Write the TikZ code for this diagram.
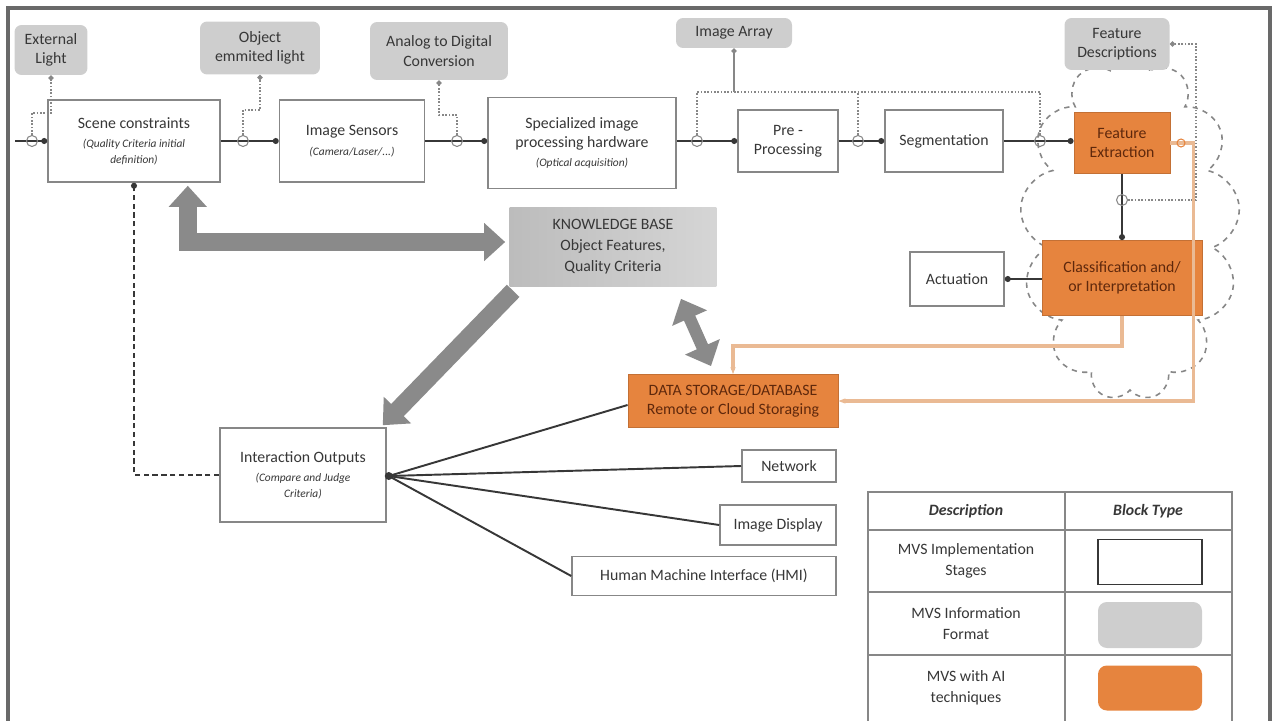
\documentclass[tikz,border=0pt]{standalone}
\usepackage{fontspec}
\setmainfont{Carlito}
\usetikzlibrary{arrows.meta,calc,positioning,shapes.symbols}
\definecolor{mvsFrame}{RGB}{105,105,105}
\definecolor{mvsEdge}{RGB}{135,135,135}
\definecolor{mvsInk}{RGB}{55,55,55}
\definecolor{mvsInfo}{RGB}{206,206,206}
\definecolor{mvsInfoDark}{RGB}{188,188,188}
\definecolor{mvsAI}{RGB}{230,132,62}
\definecolor{mvsAIText}{RGB}{95,40,12}
\definecolor{mvsTan}{RGB}{234,186,148}
\definecolor{mvsBig}{RGB}{138,138,138}
\newcommand{\subnote}[1]{{\fontsize{6.5}{9}\selectfont\itshape #1}}
\tikzset{
  stagebox/.style={draw=mvsEdge,line width=0.9pt,fill=white,align=center,
    inner sep=2pt,text=mvsInk,font=\fontsize{9}{11}\selectfont},
  infobox/.style={fill=mvsInfo,rounded corners=4pt,align=center,
    inner sep=2pt,text=mvsInk,font=\fontsize{9}{11}\selectfont},
  aibox/.style={draw=mvsAI!85!black,line width=0.5pt,fill=mvsAI,align=center,
    inner sep=2pt,text=mvsAIText,font=\fontsize{9}{11}\selectfont},
  junction/.style={circle,draw=mvsEdge,inner sep=0pt,minimum size=0.22cm,line width=0.6pt},
  flow/.style={draw=mvsInk,line width=1pt,-{Circle[length=3.4pt]}},
  tap/.style={draw=mvsEdge,densely dotted,line width=0.9pt,-{Circle[length=3pt]}},
  tapline/.style={draw=mvsEdge,densely dotted,line width=0.9pt},
  bigarrow/.style={draw=mvsBig,line width=10pt,-{Triangle[length=12pt,width=21pt]}},
  bigdouble/.style={draw=mvsBig,line width=10pt,
    {Triangle[length=12pt,width=21pt]}-{Triangle[length=12pt,width=21pt]}},
  tanline/.style={draw=mvsTan,line width=2.2pt},
  fanline/.style={draw=mvsInk,line width=1.1pt},
  cloudzone/.style={cloud,cloud puffs=13,cloud ignores aspect,draw=mvsEdge,
    dashed,line width=0.9pt,minimum width=4.4cm,minimum height=6.9cm},
  legendrule/.style={draw=mvsEdge,line width=1pt},
  legendtext/.style={align=center,text=mvsInk,font=\fontsize{9}{12}\selectfont}
}
\begin{document}
\begin{tikzpicture}[x=0.02cm,y=-0.02cm]
  \useasboundingbox (0,0) rectangle (1280,720);
  \draw[mvsFrame,line width=2.2pt] (8,8) rectangle (1270,760);
  % cloud round the AI stages
  \node[cloudzone] (aicloud) at (1130,228) {};
  % information formats
  \node[infobox,minimum width=1.46cm,minimum height=1.0cm] (extlight) at (51,50) {External\\Light};
  \node[infobox,minimum width=2.4cm,minimum height=1.06cm] (objlight) at (260,48) {Object\\emmited light};
  \node[infobox,minimum width=2.76cm,minimum height=1.16cm] (adconv) at (439,51) {Analog to Digital\\Conversion};
  \node[infobox,minimum width=2.32cm,minimum height=0.6cm] (imgarray) at (734,33) {Image Array};
  \node[infobox,minimum width=2.1cm,minimum height=1.04cm] (featdesc) at (1117,44) {Feature\\Descriptions};
  % implementation stages
  \node[stagebox,minimum width=3.44cm,minimum height=1.64cm] (scene) at (134,141)
    {Scene constraints\\\subnote{(Quality Criteria initial}\\[-2pt]\subnote{definition)}};
  \node[stagebox,minimum width=2.9cm,minimum height=1.64cm] (sensors) at (352,141)
    {Image Sensors\\\subnote{(Camera/Laser/...)}};
  \node[stagebox,minimum width=3.76cm,minimum height=1.82cm] (hardware) at (582,143)
    {Specialized image\\processing hardware\\\subnote{(Optical acquisition)}};
  \node[stagebox,minimum width=2.0cm,minimum height=1.24cm] (preproc) at (788,141) {Pre -\\Processing};
  \node[stagebox,minimum width=2.36cm,minimum height=1.24cm] (segment) at (944,141) {Segmentation};
  \node[aibox,minimum width=1.92cm,minimum height=1.22cm] (featext) at (1122,143) {Feature\\Extraction};
  \node[aibox,minimum width=3.2cm,minimum height=1.5cm] (classify) at (1122,278)
    {Classification and/\\or Interpretation};
  \node[stagebox,minimum width=1.88cm,minimum height=1.08cm] (actuation) at (957,279) {Actuation};
  \node[minimum width=4.14cm,minimum height=1.58cm,left color=mvsInfoDark,right color=mvsInfo!85,
    align=center,text=mvsInk,font=\fontsize{9}{12}\selectfont] (knowbase) at (613,247)
    {KNOWLEDGE BASE\\Object Features,\\Quality Criteria};
  \node[aibox,minimum width=4.2cm,minimum height=1.06cm] (storage) at (733,401)
    {DATA STORAGE/DATABASE\\Remote or Cloud Storaging};
  \node[stagebox,minimum width=3.32cm,minimum height=1.88cm] (outputs) at (303,475)
    {Interaction Outputs\\\subnote{(Compare and Judge}\\[-2pt]\subnote{Criteria)}};
  \node[stagebox,minimum width=1.88cm,minimum height=0.64cm] (network) at (789,466) {Network};
  \node[stagebox,minimum width=2.32cm,minimum height=0.8cm] (display) at (778,525) {Image Display};
  \node[stagebox,minimum width=5.28cm,minimum height=0.78cm] (hmi) at (704,576) {Human Machine Interface (HMI)};
  % main acquisition line
  \coordinate (entry) at (15,141);
  \draw[flow] (entry) -- (scene.west);
  \draw[flow] (scene.east) -- (sensors.west);
  \draw[flow] (sensors.east) -- (hardware.west |- sensors.east);
  \draw[flow] (hardware.east |- preproc.west) -- (preproc.west);
  \draw[flow] (preproc.east) -- (segment.west);
  \draw[flow] (segment.east) -- (featext.west |- segment.east);
  \draw[flow] (featext.south) -- (classify.north);
  \draw[flow] (classify.west |- actuation.east) -- (actuation.east);
  \node[junction] (j1) at (32,141) {};
  \node[junction] (j2) at (243,141) {};
  \node[junction] (j3) at (457,141) {};
  \node[junction] (j4) at (697,141) {};
  \node[junction] (j5) at (858,141) {};
  \node[junction] (j6) at (1040,141) {};
  \node[junction] (j7) at (1122,200) {};
  % dotted taps to the information formats
  \draw[tap] (j1.north) -- ++(0,-22) -| (extlight.south);
  \draw[tap] (j2.north) -- ++(0,-25) -| (objlight.south);
  \draw[tap] (j3.north) -- ++(0,-20) -| (adconv.south);
  \coordinate (tapbus) at (734,92);
  \draw[tapline] (j4.north) |- (tapbus) -| (j6.north);
  \draw[tapline] (j5.north) -- (j5.north |- tapbus);
  \draw[draw=mvsEdge,line width=0.9pt,-{Circle[length=3pt]}] (tapbus) -- (imgarray.south);
  \draw[tap] (j7.east) -- ++(68,0) |- (featdesc.east);
  % storage feedback
  \draw[tanline,-{Stealth[length=4pt]}] (featext.east) -- ++(23,0) |- (storage.east);
  \draw[tanline,-{Stealth[length=4pt]}] (classify.south) -- ++(0,30) -| (storage.north);
  \node[junction,draw=mvsAI,minimum size=0.16cm] (j8) at (1181,143) {};
  % knowledge base exchanges
  \draw[bigdouble] ($(scene.south east)+(-33,3)$) |- ($(knowbase.west)+(-4,-5)$);
  \draw[bigarrow] ($(knowbase.south west)+(4,4)$) -- ($(outputs.north east)+(-4,-2)$);
  \draw[bigdouble,line width=7pt] ($(knowbase.south)+(68,12)$) -- ($(storage.north)+(-22,-8)$);
  % interaction outputs
  \draw[densely dashed,draw=mvsInk,line width=0.8pt,-{Circle[length=3.4pt]}] (outputs.west) -| (scene.south);
  \coordinate (fan) at ($(outputs.east)+(2,1)$);
  \draw[fanline] (fan) -- ($(storage.west)+(0,4)$);
  \draw[fanline] (fan) -- (network.west);
  \draw[fanline] (fan) -- (display.west);
  \draw[fanline] (fan) -- (hmi.west);
  \fill[mvsInk] (fan) circle (4);
  % legend
  \draw[legendrule] (868,492) rectangle (1232,760);
  \draw[legendrule] (1065,492) -- (1065,760);
  \foreach \y in {530,592,655}
    \draw[legendrule] (868,\y) -- (1232,\y);
  \node[legendtext,font=\fontsize{9}{12}\selectfont\bfseries\itshape] (lgdesc) at (966,511) {Description};
  \node[legendtext,font=\fontsize{9}{12}\selectfont\bfseries\itshape] (lgtype) at (1148,511) {Block Type};
  \node[legendtext] (lgstage) at (966,561) {MVS Implementation\\Stages};
  \node[legendtext] (lginfo) at (966,624) {MVS Information\\Format};
  \node[legendtext] (lgai) at (966,688) {MVS with AI\\techniques};
  \node[draw=mvsInk,line width=0.8pt,minimum width=2.08cm,minimum height=0.9cm] (swstage) at (1150,562) {};
  \node[fill=mvsInfo,rounded corners=5pt,minimum width=2.08cm,minimum height=0.92cm] (swinfo) at (1150,625) {};
  \node[fill=mvsAI,rounded corners=5pt,minimum width=2.08cm,minimum height=0.9cm] (swai) at (1150,688) {};
\end{tikzpicture}
\end{document}
